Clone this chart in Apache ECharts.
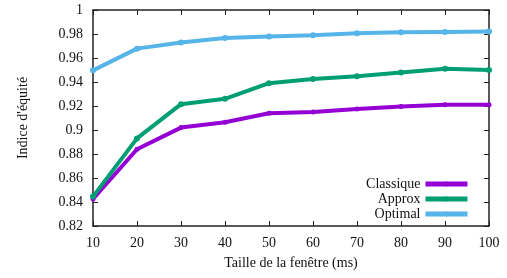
<!DOCTYPE html>
<html>
<head>
<meta charset="utf-8">
<script src="https://cdn.jsdelivr.net/npm/echarts@6/dist/echarts.min.js"></script>
<style>
  html, body { margin: 0; padding: 0; background: #fff; }
  #main { width: 507px; height: 278px; }
</style>
</head>
<body>
<div id="main"></div>
<script>
// données
var fenetres = [10, 20, 30, 40, 50, 60, 70, 80, 90, 100];
var classique = [0.8425, 0.884, 0.902, 0.9065, 0.914, 0.915, 0.9175, 0.9195, 0.921, 0.921];
var approx = [0.8445, 0.893, 0.9215, 0.926, 0.939, 0.9425, 0.9447, 0.948, 0.951, 0.950];
var optimal = [0.9497, 0.9678, 0.973, 0.9767, 0.978, 0.979, 0.9806, 0.9814, 0.9817, 0.982];

function pts(vals) {
    var out = [];
    for (var i = 0; i < fenetres.length; i++) {
        out.push([fenetres[i], vals[i]]);
    }
    return out;
}

var police = 'Liberation Serif';
var myChart = echarts.init(document.getElementById('main'));

var tickStyle = { inside: true, length: 5, lineStyle: { color: '#222', width: 1 } };
var axisLine = { show: true, onZero: false, lineStyle: { color: '#222', width: 1.5 } };

var option = {
    animation: false,
    textStyle: { fontFamily: police },
    grid: { left: 93, right: 18, top: 10, bottom: 52 },
    legend: {
        orient: 'vertical',
        right: 32,
        top: 172,
        align: 'right',
        itemWidth: 42,
        itemHeight: 6,
        itemGap: 1,
        lineStyle: { width: 5 },
        textStyle: { fontFamily: police, fontSize: 14, color: '#111' },
        data: ['Classique', 'Approx', 'Optimal']
    },
    xAxis: [{
        type: 'value',
        min: 10, max: 100, interval: 10,
        name: 'Taille de la fenêtre (ms)',
        nameLocation: 'middle',
        nameGap: 30,
        nameTextStyle: { fontFamily: police, fontSize: 14, color: '#111' },
        axisLine: axisLine,
        axisTick: tickStyle,
        splitLine: { show: false },
        axisLabel: { fontFamily: police, fontSize: 14, color: '#111', margin: 10 }
    }, {
        type: 'value', position: 'top',
        min: 10, max: 100, interval: 10,
        axisLine: axisLine,
        axisTick: tickStyle,
        splitLine: { show: false },
        axisLabel: { show: false }
    }],
    yAxis: [{
        type: 'value',
        min: 0.82, max: 1, interval: 0.02,
        name: "Indice d'équité",
        nameLocation: 'middle',
        nameGap: 63,
        nameTextStyle: { fontFamily: police, fontSize: 14, color: '#111' },
        axisLine: axisLine,
        axisTick: tickStyle,
        splitLine: { show: false },
        axisLabel: {
            fontFamily: police, fontSize: 14, color: '#111', margin: 10,
            formatter: function (v) { return String(parseFloat(v.toFixed(2))); }
        }
    }, {
        type: 'value', position: 'right',
        min: 0.82, max: 1, interval: 0.02,
        axisLine: axisLine,
        axisTick: tickStyle,
        splitLine: { show: false },
        axisLabel: { show: false }
    }],
    series: [{
        name: 'Classique',
        type: 'line',
        data: pts(classique),
        symbol: 'circle', symbolSize: 5,
        lineStyle: { width: 4, color: '#9400d3' },
        itemStyle: { color: '#9400d3' }
    }, {
        name: 'Approx',
        type: 'line',
        data: pts(approx),
        symbol: 'circle', symbolSize: 6,
        lineStyle: { width: 4, color: '#009e73' },
        itemStyle: { color: '#009e73' }
    }, {
        name: 'Optimal',
        type: 'line',
        data: pts(optimal),
        symbol: 'circle', symbolSize: 6,
        lineStyle: { width: 4, color: '#56b4e9' },
        itemStyle: { color: '#56b4e9' }
    }]
};

myChart.setOption(option);
</script>
</body>
</html>
